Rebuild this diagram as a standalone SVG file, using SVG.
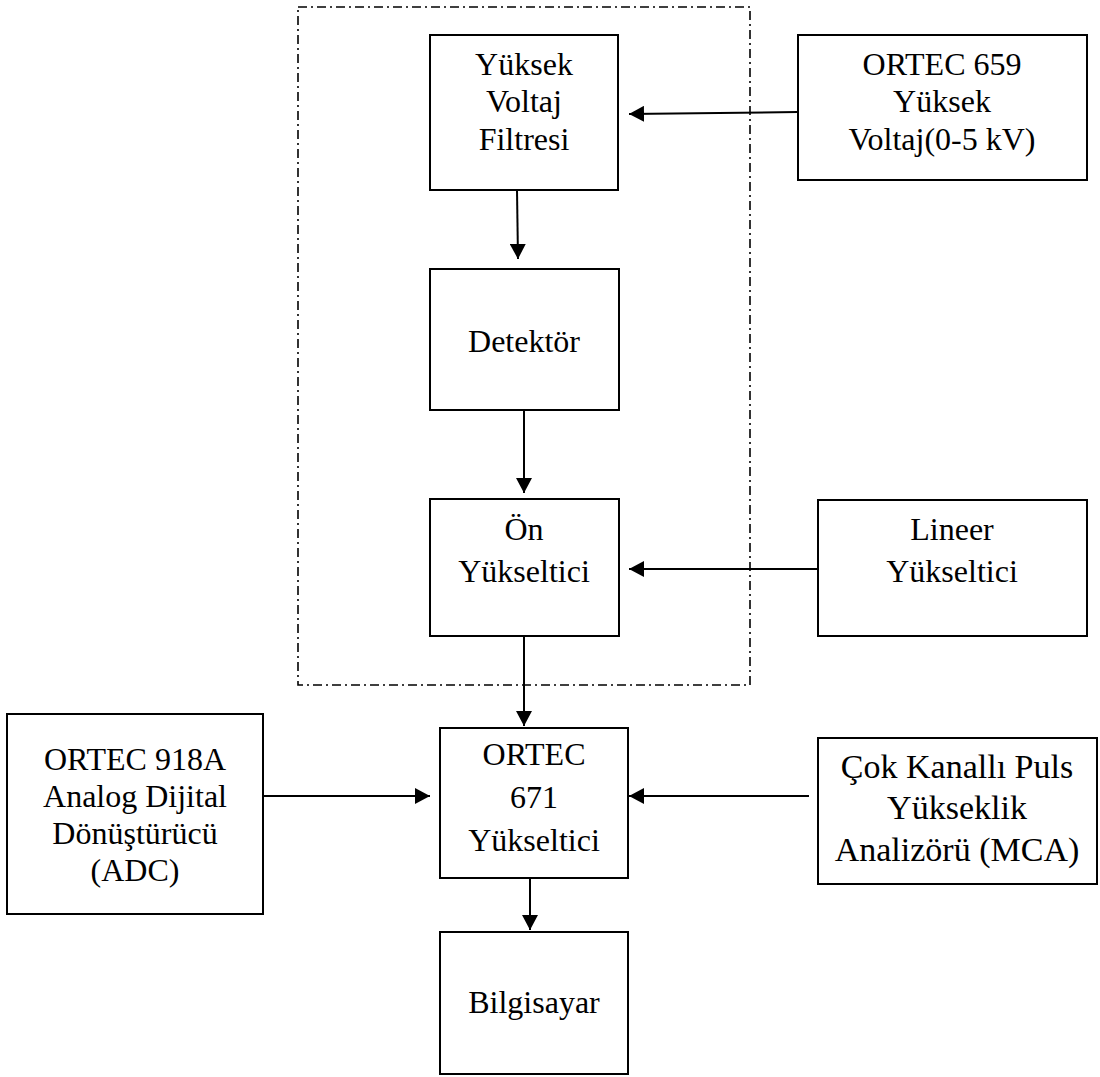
<svg xmlns="http://www.w3.org/2000/svg" width="1100" height="1077" viewBox="0 0 1100 1077">
<style>
.box{fill:#fff;stroke:#000;stroke-width:2}
.lbl{font-family:"Liberation Serif","Times New Roman",serif;font-size:32px;fill:#000;text-anchor:middle}
.big{font-size:34px}
.con{stroke:#000;stroke-width:2;fill:none;marker-end:url(#ah)}
.grp{fill:none;stroke:#000;stroke-width:1.6;stroke-dasharray:9 4 2 4}
</style>
<defs>
<marker id="ah" markerUnits="userSpaceOnUse" markerWidth="16" markerHeight="16" viewBox="0 0 16 16" refX="15" refY="8" orient="auto">
<path d="M0,0 L15,8 L0,16 Z" fill="#000"/>
</marker>
</defs>
<rect id="group-boundary" class="grp" x="298" y="7" width="452" height="678"/>
<g id="node-filter"><rect class="box" x="430" y="35" width="188" height="155"/>
<text class="lbl" x="524" y="75">Yüksek</text><text class="lbl" x="524" y="112">Voltaj</text><text class="lbl" x="524" y="150">Filtresi</text></g>
<g id="node-ortec659"><rect class="box" x="798" y="35" width="289" height="145"/>
<text class="lbl" x="942" y="75">ORTEC 659</text><text class="lbl" x="942" y="112">Yüksek</text><text class="lbl" x="942" y="150">Voltaj(0-5 kV)</text></g>
<g id="node-detektor"><rect class="box" x="430" y="269" width="189" height="141"/>
<text class="lbl" x="524" y="352">Detektör</text></g>
<g id="node-on"><rect class="box" x="430" y="499" width="189" height="137"/>
<text class="lbl" x="524" y="540">Ön</text><text class="lbl" x="524" y="582">Yükseltici</text></g>
<g id="node-lineer"><rect class="box" x="818" y="500" width="269" height="136"/>
<text class="lbl" x="952" y="540">Lineer</text><text class="lbl" x="952" y="582">Yükseltici</text></g>
<g id="node-ortec671"><rect class="box" x="440" y="728" width="188" height="150"/>
<text class="lbl" x="534" y="765">ORTEC</text><text class="lbl" x="534" y="808">671</text><text class="lbl" x="534" y="851">Yükseltici</text></g>
<g id="node-adc"><rect class="box" x="7" y="714" width="256" height="200"/>
<text class="lbl" x="135" y="770">ORTEC 918A</text><text class="lbl" x="135" y="807">Analog Dijital</text><text class="lbl" x="135" y="844">Dönüştürücü</text><text class="lbl" x="135" y="881">(ADC)</text></g>
<g id="node-mca"><rect class="box" x="818" y="738" width="279" height="146"/>
<text class="lbl big" x="957" y="778">Çok Kanallı Puls</text><text class="lbl big" x="957" y="819">Yükseklik</text><text class="lbl big" x="957" y="861">Analizörü (MCA)</text></g>
<g id="node-bilgisayar"><rect class="box" x="440" y="932" width="188" height="142"/>
<text class="lbl" x="534" y="1013">Bilgisayar</text></g>
<g id="connectors">
<line class="con" x1="798" y1="112" x2="629" y2="114"/>
<line class="con" x1="517" y1="190" x2="518" y2="259"/>
<line class="con" x1="524" y1="410" x2="524" y2="493"/>
<line class="con" x1="818" y1="569" x2="629" y2="569"/>
<line class="con" x1="524" y1="636" x2="524" y2="726"/>
<line class="con" x1="263" y1="796" x2="430" y2="796"/>
<line class="con" x1="809" y1="796" x2="629" y2="796"/>
<line class="con" x1="530" y1="878" x2="530" y2="930"/>
</g>
</svg>
